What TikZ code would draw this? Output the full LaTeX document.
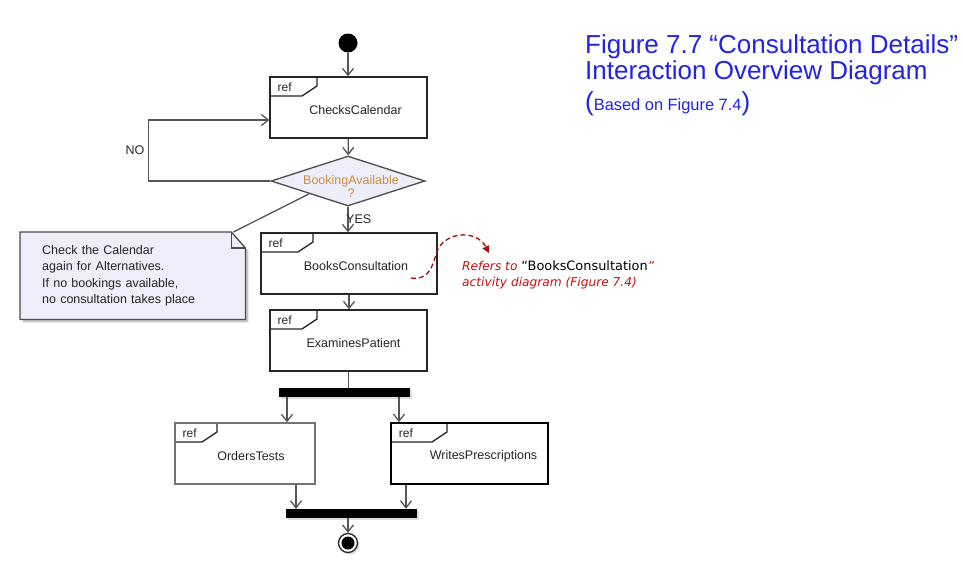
\documentclass[tikz,border=0pt]{standalone}
\usepackage{fontspec}
\setmainfont{Liberation Sans}
\newfontfamily\annfont{DejaVu Sans}
\usetikzlibrary{arrows.meta,shapes.geometric,backgrounds,shadows}
\definecolor{umlblue}{RGB}{34,34,232}
\definecolor{notefill}{RGB}{238,238,250}
\definecolor{guardtext}{RGB}{204,140,60}
\definecolor{annred}{RGB}{200,16,16}
\definecolor{flowgray}{RGB}{85,85,85}
\newcommand\fragtext[2][14pt]{\hspace*{#1}\raisebox{-3pt}[\height][\depth]{#2}}
\begin{document}
\begin{tikzpicture}[
    x=1pt, y=-1pt,
    every node/.style={font=\fontsize{12.5}{15}\selectfont, text=black!85},
    flow/.style={draw=flowgray, line width=1.3, -{Straight Barb[length=7,width=11]}},
    link/.style={draw=flowgray, line width=1.3},
    refbox/.style={draw=black!85, line width=1.3, fill=white, minimum width=157, minimum height=61, inner sep=0,
      path picture={
        \draw[line width=1.3, draw=black!85] ([xshift=#1]path picture bounding box.north west) -- ++(0,9) -- ++(-15,10) -- ([yshift=-19]path picture bounding box.north west);
        \node[anchor=west, draw=none, fill=none, inner sep=0, minimum width=0, minimum height=0, font=\fontsize{12}{14}\selectfont] at ([shift={(7,10)}]path picture bounding box.north west) {ref};
      }},
    refbox/.default=47,
    decision/.style={diamond, draw=black!70, line width=1.3, fill=notefill, minimum width=154, minimum height=50, inner sep=0},
    bar/.style={fill=black, minimum width=131, minimum height=9, inner sep=0, drop shadow={shadow xshift=2pt, shadow yshift=-2pt, fill=black!25}},
    final/.style={circle, draw=black!85, line width=1.3, fill=white, minimum size=19, inner sep=0,
      drop shadow={shadow xshift=2pt, shadow yshift=-2pt, fill=black!25},
      path picture={\fill[black] (path picture bounding box.center) circle[radius=6.5pt];}},
    note/.style={minimum width=225, minimum height=87, text width=181, inner xsep=22, inner ysep=0, align=left, font=\fontsize{12.5}{16.5}\selectfont},
    refcurve/.style={draw=annred!85!black, line width=1.3, dash pattern=on 5pt off 3pt, -{Triangle[length=7,width=7]}}
  ]
  \useasboundingbox (0,0) rectangle (963,563);

  \node[circle, fill=black, minimum size=19, inner sep=0] (start) at (348,43) {};
  \node[refbox] (cal) at (348.5,107.5) {\fragtext{ChecksCalendar}};
  \node[decision] (avail) at (348,181) {};
  \node[text=guardtext, align=center, inner sep=0, font=\fontsize{12.5}{13}\selectfont] (availtext) at (351,186) {BookingAvailable\\?};
  \node[refbox=52, minimum width=176] (books) at (349,263.5) {\fragtext{BooksConsultation}};
  \node[refbox] (exam) at (348.5,340.5) {\fragtext[10pt]{ExaminesPatient}};
  \node[bar] (fork) at (344.5,392.5) {};
  \node[refbox=42, minimum width=140, draw=black!55] (orders) at (245,453.5) {\fragtext[12pt]{OrdersTests}};
  \node[refbox=56, line width=1.7, draw=black] (writes) at (469.5,453.5) {\fragtext[28pt]{WritesPrescriptions}};
  \node[bar] (join) at (351.5,513.5) {};
  \node[final] (end) at (348,543) {};

  \node[note, anchor=north west] (note) at (20,232) {Check the Calendar\\again for Alternatives.\\If no bookings available,\\no consultation takes place};
  \begin{scope}[on background layer]
    \fill[white] (0,0) rectangle (963,563);
    \fill[black!22, transform canvas={xshift=3pt, yshift=-3pt}] (note.north west) -- ([xshift=-14]note.north east) -- ([yshift=-16]note.north east) -- (note.south east) -- (note.south west) -- cycle;
    \filldraw[fill=notefill, draw=black!70, line width=1.3] (note.north west) -- ([xshift=-14]note.north east) -- ([yshift=-16]note.north east) -- (note.south east) -- (note.south west) -- cycle;
    \draw[draw=black!70, line width=1.3] ([xshift=-14]note.north east) -- ([xshift=-14, yshift=-16]note.north east) -- ([yshift=-16]note.north east);
  \end{scope}

  \draw[flow] (start) -- (start |- cal.north);
  \draw[flow] (cal) -- (avail);
  \draw[flow] (avail.west) -- ++(-122,0) |- ([yshift=-12.5]cal.west);
  \node (no) at (135,150) {NO};
  \draw[flow] (avail.south) -- (avail.south |- books.north);
  \node[anchor=west, inner sep=0] (yes) at (346,219) {YES};
  \draw[link] (avail.south west) -- ([xshift=-12]note.north east);
  \draw[flow] (books) -- (books.south |- exam.north);
  \draw[link] (exam) -- (exam.south |- fork.north);
  \draw[flow] ([xshift=-57.5]fork.south) -- ([xshift=-57.5]fork.south |- orders.north);
  \draw[flow] ([xshift=54.5]fork.south) -- ([xshift=54.5]fork.south |- writes.north);
  \draw[flow] ([xshift=51]orders.south) -- ([xshift=51]orders.south |- join.north);
  \draw[flow] ([xshift=-63.5]writes.south) -- ([xshift=-63.5]writes.south |- join.north);
  \draw[flow] (join.south -| end) -- (end);

  \coordinate (refstart) at (411,278);
  \coordinate (reftip) at (489,253);
  \draw[refcurve] (refstart) .. controls (428,281) and (433,266) .. (436,254) .. controls (442,232) and (476,228) .. (reftip);
  \node[anchor=north west, align=left, inner sep=0, text=annred, font=\annfont\fontsize{12.2}{16}\selectfont] (refnote) at (462,260) {\textit{Refers to} \textcolor{black}{\fontsize{12.9}{16}\selectfont“BooksConsultation}\textit{”}\\\textit{activity diagram (Figure 7.4)}};

  \node[anchor=north west, align=left, inner sep=0, text=umlblue, font=\fontsize{26}{25.5}\selectfont] (title) at (585,34.5) {Figure 7.7 “Consultation Details”\\Interaction Overview Diagram\\[6pt]({\fontsize{16.4}{18}\selectfont Based on Figure 7.4})};
\end{tikzpicture}
\end{document}
